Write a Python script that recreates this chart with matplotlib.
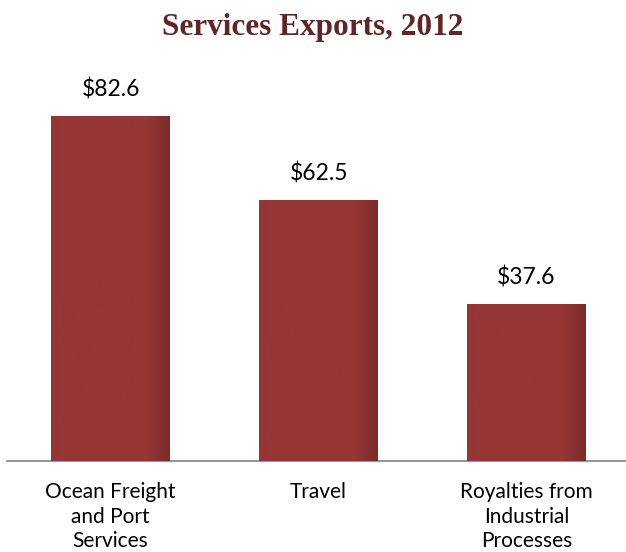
import numpy as np
import matplotlib.pyplot as plt
from matplotlib.colors import LinearSegmentedColormap

categories = ["Ocean Freight\nand Port\nServices", "Travel", "Royalties from\nIndustrial\nProcesses"]
values = [82.6, 62.5, 37.6]
labels = ["$82.6", "$62.5", "$37.6"]

bar_color = "#953735"
title_color = "#632523"

fig = plt.figure(figsize=(6.26, 5.52), dpi=100)
ax = fig.add_axes([7 / 626, 91 / 552, 619 / 626, 401 / 552])

x = np.arange(len(values))
width = 0.572
bars = ax.bar(x, values, width=width, color=bar_color, zorder=2)

# shading across each bar, darker near the right edge
cmap = LinearSegmentedColormap.from_list(
    "shade", [(0, "#923634"), (0.05, "#953735"), (0.8, "#953735"),
              (0.93, "#84302f"), (1, "#7a2c2b")])
grad = np.linspace(0, 1, 256).reshape(1, -1)
for b in bars:
    x0, w, h = b.get_x(), b.get_width(), b.get_height()
    im = ax.imshow(grad, cmap=cmap, aspect="auto", extent=[x0, x0 + w, 0, h],
                   vmin=0, vmax=1, zorder=3)
    im.set_clip_path(b)

for xi, v, lab in zip(x, values, labels):
    ax.text(xi, v + 3.6, lab, ha="center", va="bottom", fontsize=16.5,
            family="Lato", color="black")

ax.set_xlim(-0.498, 2.478)
ax.set_ylim(0, 96.0)
ax.set_xticks(x)
ax.set_xticklabels(categories, fontsize=15, family="Lato", linespacing=1.3)
ax.tick_params(axis="x", length=0, pad=15)
ax.set_yticks([])
for s in ["top", "right", "left"]:
    ax.spines[s].set_visible(False)
ax.spines["bottom"].set_color("#8c8c8c")
ax.spines["bottom"].set_linewidth(1.3)

fig.text(0.5, 1 - 27 / 552, "Services Exports, 2012", ha="center", va="center",
         fontsize=22.5, fontweight="bold", family="Liberation Serif", color=title_color)

fig.savefig("out.png", dpi=100)
